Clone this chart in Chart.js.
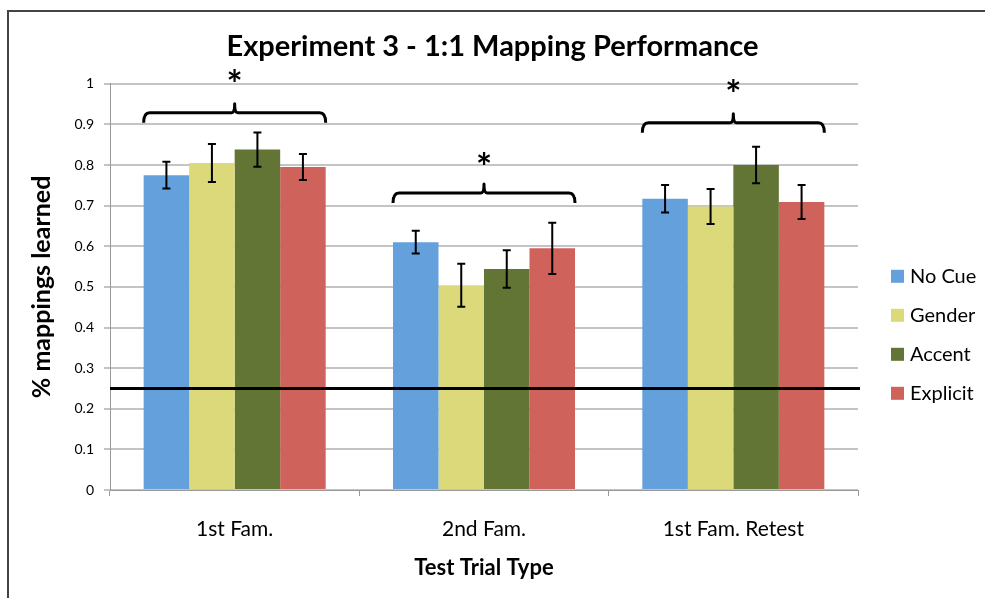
<!DOCTYPE html>
<html>
<head>
<meta charset="utf-8">
<script src="https://cdn.jsdelivr.net/npm/chart.js@4/dist/chart.umd.min.js"></script>
<style>
  body { margin: 0; background: #fff; }
  #frame { position: absolute; left: 7px; top: 10px; width: 1000px; height: 600px;
           border-left: 2px solid #444; border-top: 2px solid #444; }
  #chart { position: absolute; left: 0; top: 0; }
</style>
</head>
<body>
<div id="frame"></div>
<canvas id="chart" width="985" height="598"></canvas>
<script>
// data
var categories = ['1st Fam.', '2nd Fam.', '1st Fam. Retest'];
var seriesNames = ['No Cue', 'Gender', 'Accent', 'Explicit'];
var noCue = [0.775, 0.61, 0.717];
var gender = [0.805, 0.504, 0.698];
var accent = [0.838, 0.544, 0.80];
var explicit = [0.795, 0.595, 0.709];
var noCueErr = [0.033, 0.028, 0.034];
var genderErr = [0.047, 0.053, 0.043];
var accentErr = [0.042, 0.046, 0.045];
var explicitErr = [0.032, 0.063, 0.042];
var chanceLevel = 0.25;
var bracketLevels = [0.929, 0.731, 0.904];  // height of the significance brackets
var starLevels = [1.015, 0.81, 0.99];       // where the * sits
var yTickLabels = ['0', '0.1', '0.2', '0.3', '0.4', '0.5', '0.6', '0.7', '0.8', '0.9', '1'];

var colors = ['#64a0dc', '#dcd97a', '#627534', '#cf635c'];
var FONT = 'Lato, "Open Sans", sans-serif';

var errs = [noCueErr, genderErr, accentErr, explicitErr];

// error bars, chance line, brackets, stars and the legend
var extrasPlugin = {
    id: 'extras',
    afterDatasetsDraw: function(chart) {
        var ctx = chart.ctx;
        var y = chart.scales.y;
        var area = chart.chartArea;
        ctx.save();

        // error bars
        ctx.strokeStyle = '#000';
        ctx.lineWidth = 2;
        chart.data.datasets.forEach(function(ds, i) {
            var meta = chart.getDatasetMeta(i);
            meta.data.forEach(function(bar, j) {
                var v = ds.data[j], e = errs[i][j];
                var top = y.getPixelForValue(v + e), bot = y.getPixelForValue(v - e);
                ctx.beginPath();
                ctx.moveTo(bar.x, top); ctx.lineTo(bar.x, bot);
                ctx.moveTo(bar.x - 4, top); ctx.lineTo(bar.x + 4, top);
                ctx.moveTo(bar.x - 4, bot); ctx.lineTo(bar.x + 4, bot);
                ctx.stroke();
            });
        });

        // chance line
        var cy = y.getPixelForValue(chanceLevel);
        ctx.lineWidth = 3;
        ctx.beginPath();
        ctx.moveTo(area.left, cy); ctx.lineTo(area.right + 2, cy);
        ctx.stroke();

        // brackets with a star above each group
        var first = chart.getDatasetMeta(0), last = chart.getDatasetMeta(chart.data.datasets.length - 1);
        categories.forEach(function(c, j) {
            var b0 = first.data[j], b1 = last.data[j];
            var x0 = b0.x - b0.width / 2, x1 = b1.x + b1.width / 2, xm = (x0 + x1) / 2;
            var by = y.getPixelForValue(bracketLevels[j]);
            ctx.lineWidth = 3;
            ctx.lineJoin = 'round';
            ctx.beginPath();
            ctx.moveTo(x0, by + 10);
            ctx.quadraticCurveTo(x0, by, x0 + 6, by);
            ctx.lineTo(xm - 3, by);
            ctx.quadraticCurveTo(xm, by, xm, by - 9);
            ctx.quadraticCurveTo(xm, by, xm + 3, by);
            ctx.lineTo(x1 - 6, by);
            ctx.quadraticCurveTo(x1, by, x1, by + 10);
            ctx.stroke();

            ctx.fillStyle = '#000';
            ctx.font = 'bold 38px ' + FONT;
            ctx.textAlign = 'center';
            ctx.textBaseline = 'middle';
            ctx.fillText('*', xm, y.getPixelForValue(starLevels[j]) + 8);
        });

        // legend on the right
        ctx.font = '20px ' + FONT;
        ctx.textAlign = 'left';
        ctx.textBaseline = 'middle';
        chart.data.datasets.forEach(function(ds, i) {
            var ly = area.top + 193 + i * 39;
            ctx.fillStyle = ds.backgroundColor;
            ctx.fillRect(area.right + 33, ly - 7, 13, 13);
            ctx.fillStyle = '#000';
            ctx.fillText(ds.label, area.right + 52, ly);
        });
        ctx.restore();
    }
};

var ctx = document.getElementById('chart').getContext('2d');
var chart = new Chart(ctx, {
    type: 'bar',
    data: {
        labels: categories,
        datasets: [noCue, gender, accent, explicit].map(function(d, i) {
            return {
                label: seriesNames[i],
                data: d,
                backgroundColor: colors[i],
                borderWidth: 0,
                categoryPercentage: 0.73,
                barPercentage: 1.0
            };
        })
    },
    options: {
        responsive: false,
        animation: false,
        layout: { padding: 0 },
        plugins: {
            legend: { display: false },
            tooltip: { enabled: false },
            title: {
                display: true,
                text: 'Experiment 3 - 1:1 Mapping Performance',
                color: '#000',
                font: { family: FONT, size: 29, weight: 'bold' },
                padding: { top: 29, bottom: 20 }
            }
        },
        scales: {
            x: {
                grid: { display: true, drawOnChartArea: false, drawTicks: true, tickLength: 6, color: '#999', offset: true },
                border: { color: '#999', width: 1 },
                ticks: { color: '#000', font: { family: FONT, size: 21 }, padding: 21 },
                title: { display: true, text: 'Test Trial Type', color: '#000',
                         font: { family: FONT, size: 22, weight: 'bold' }, padding: { top: 0, bottom: 17 } },
                afterFit: function(s) { s.height = 108; }
            },
            y: {
                min: 0,
                max: 1,
                grid: { color: '#c4c4c4', lineWidth: 2, tickLength: 6 },
                border: { color: '#999', width: 1 },
                ticks: {
                    stepSize: 0.1,
                    color: '#000',
                    padding: 10,
                    font: { family: FONT, size: 14 },
                    callback: function(v, i) { return yTickLabels[i]; }
                },
                title: { display: true, text: '% mappings learned', color: '#000',
                         font: { family: FONT, size: 25, weight: 'bold' }, padding: { top: 27, bottom: 0 } },
                afterFit: function(s) { s.width = 110; }
            },
            yR: {
                position: 'right',
                display: true,
                grid: { display: false },
                border: { display: false },
                ticks: { display: false },
                afterFit: function(s) { s.width = 127; }
            }
        }
    },
    plugins: [extrasPlugin]
});
</script>
</body>
</html>
